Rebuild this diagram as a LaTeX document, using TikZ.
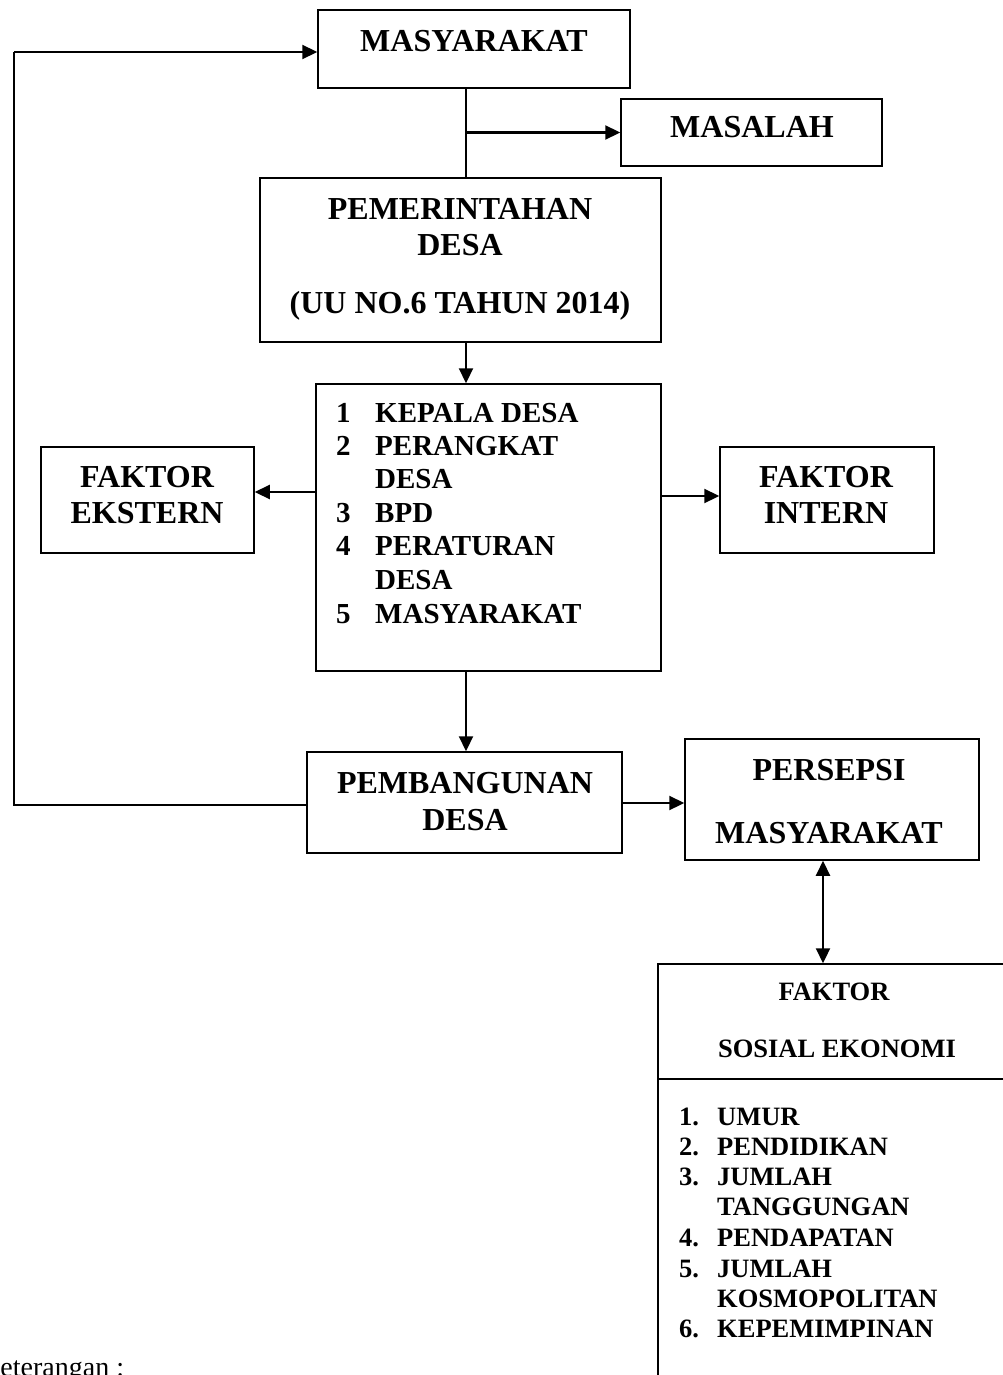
\documentclass[tikz,border=0pt]{standalone}
\usepackage{fontspec}
\setmainfont{Liberation Serif}
\usetikzlibrary{arrows.meta}
\newcommand\BigB{\fontsize{32}{38}\selectfont\bfseries}
\newcommand\MidB{\fontsize{29}{34}\selectfont\bfseries}
\newcommand\SmB{\fontsize{26.5}{30}\selectfont\bfseries}
\newcommand\RegT{\fontsize{28}{32}\selectfont}
\tikzset{
  box/.style={draw, line width=1.5pt, rectangle, inner sep=0pt},
  arr/.style={line width=2.2pt, -{Triangle[length=15pt,width=14pt]}},
  darr/.style={line width=2.2pt, {Triangle[length=15pt,width=14pt]}-{Triangle[length=15pt,width=14pt]}},
  plain/.style={line width=2pt},
  thin/.style={line width=1.4pt},
  lblB/.style={anchor=base, inner sep=0pt, font=\BigB},
  lblM/.style={anchor=base west, inner sep=0pt, font=\MidB},
  lblS/.style={anchor=base, inner sep=0pt, font=\SmB},
  lblSL/.style={anchor=base west, inner sep=0pt, font=\SmB},
}
\begin{document}
\begin{tikzpicture}[x=1pt,y=-1pt]
\useasboundingbox (0,0) rectangle (1003,1375);
\clip (0,0) rectangle (1003,1375);

% boxes
\node[box, minimum width=312pt, minimum height=78pt] (mas) at (474,49) {};
\node[box, minimum width=261pt, minimum height=67pt] (masalah) at (751.5,132.5) {};
\node[box, minimum width=401pt, minimum height=164pt] (pem) at (460.5,260) {};
\node[box, minimum width=345pt, minimum height=287pt] (list) at (488.5,527.5) {};
\node[box, minimum width=213pt, minimum height=106pt] (ekst) at (147.5,500) {};
\node[box, minimum width=214pt, minimum height=106pt] (intern) at (827,500) {};
\node[box, minimum width=315pt, minimum height=101pt] (pbd) at (464.5,802.5) {};
\node[box, minimum width=294pt, minimum height=121pt] (pers) at (832,799.5) {};
\node[box, minimum width=354pt, minimum height=426pt] (sosek) at (835,1177) {};
\coordinate (divl) at (658,1079);
\draw[box] (divl) -- (divl -| sosek.east);

% labels
\node[lblB] (t1) at (474,52) {MASYARAKAT};
\node[lblB] (t2) at (752,138) {MASALAH};
\node[lblB] (t3) at (460,219) {PEMERINTAHAN};
\node[lblB] (t4) at (460,255) {DESA};
\node[lblB] (t5) at (460,313) {(UU NO.6 TAHUN 2014)};

\node[lblM] (n1) at (336,422) {1};
\node[lblM] (l1) at (375,422) {KEPALA DESA};
\node[lblM] (n2) at (336,455) {2};
\node[lblM] (l2) at (375,455) {PERANGKAT};
\node[lblM] (l2b) at (375,488) {DESA};
\node[lblM] (n3) at (336,522) {3};
\node[lblM] (l3) at (375,522) {BPD};
\node[lblM] (n4) at (336,555) {4};
\node[lblM] (l4) at (375,555) {PERATURAN};
\node[lblM] (l4b) at (375,589) {DESA};
\node[lblM] (n5) at (336,623) {5};
\node[lblM] (l5) at (375,623) {MASYARAKAT};

\node[lblB] (e1) at (147,487) {FAKTOR};
\node[lblB] (e2) at (147,523) {EKSTERN};
\node[lblB] (i1) at (826,487) {FAKTOR};
\node[lblB] (i2) at (826,523) {INTERN};

\node[lblB] (p1) at (465,793) {PEMBANGUNAN};
\node[lblB] (p2) at (465,830) {DESA};
\node[lblB] (q1) at (829,780) {PERSEPSI};
\node[lblB] (q2) at (829,843) {MASYARAKAT};

\node[lblS] (s1) at (834,1000) {FAKTOR};
\node[lblS] (s2) at (837,1057) {SOSIAL EKONOMI};
\node[lblSL] (k1) at (679,1125) {1.};
\node[lblSL] (m1) at (717,1125) {UMUR};
\node[lblSL] (k2) at (679,1155) {2.};
\node[lblSL] (m2) at (717,1155) {PENDIDIKAN};
\node[lblSL] (k3) at (679,1185) {3.};
\node[lblSL] (m3) at (717,1185) {JUMLAH};
\node[lblSL] (m3b) at (717,1215) {TANGGUNGAN};
\node[lblSL] (k4) at (679,1246) {4.};
\node[lblSL] (m4) at (717,1246) {PENDAPATAN};
\node[lblSL] (k5) at (679,1277) {5.};
\node[lblSL] (m5) at (717,1277) {JUMLAH};
\node[lblSL] (m5b) at (717,1307) {KOSMOPOLITAN};
\node[lblSL] (k6) at (679,1337) {6.};
\node[lblSL] (m6) at (717,1337) {KEPEMIMPINAN};

\node[anchor=base west, inner sep=0pt, font=\RegT] (ket) at (-20,1376) {Keterangan :};

% connectors
\coordinate (spine) at (466,0);
\coordinate (loopx) at (14,0);
\coordinate (yE) at (0,492);
\coordinate (yI) at (0,496);
\coordinate (yL) at (0,805);
\coordinate (yT) at (0,52);
\coordinate (yP) at (0,803);
\coordinate (dx) at (823,0);
\draw[thin] (mas.south -| spine) -- (pem.north -| spine);
\draw[arr] (spine |- masalah.west) -- (masalah.west);
\draw[arr] (pem.south -| spine) -- (list.north -| spine);
\draw[arr] (list.west |- yE) -- (ekst.east |- yE);
\draw[arr] (list.east |- yI) -- (intern.west |- yI);
\draw[arr] (list.south -| spine) -- (pbd.north -| spine);
\draw[plain] (pbd.west |- yL) -- (loopx |- yL) -- (loopx |- yT);
\draw[arr] (loopx |- yT) -- (mas.west |- yT);
\draw[arr] (pbd.east |- yP) -- (pers.west |- yP);
\draw[darr] (pers.south -| dx) -- (sosek.north -| dx);
\end{tikzpicture}
\end{document}
